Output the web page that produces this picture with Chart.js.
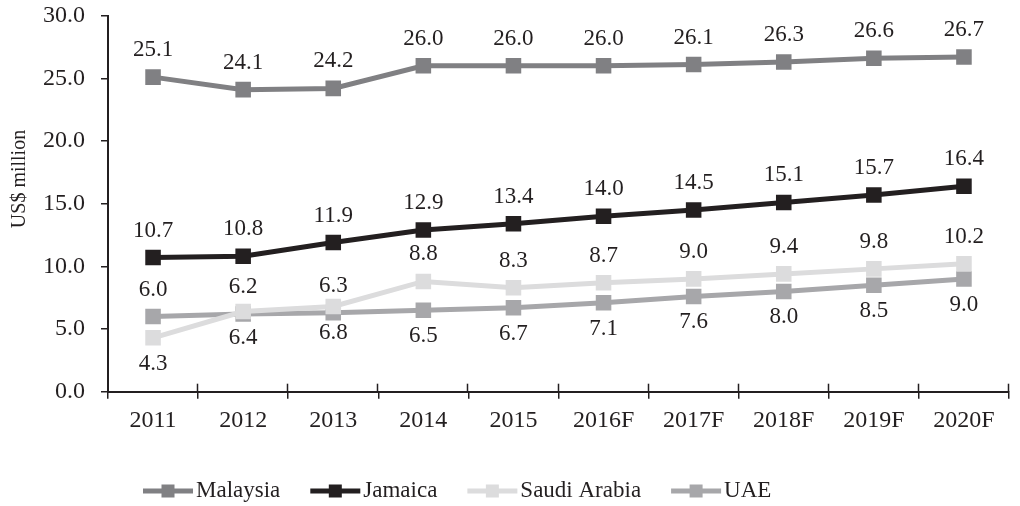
<!DOCTYPE html>
<html>
<head>
<meta charset="utf-8">
<script src="https://cdn.jsdelivr.net/npm/chart.js@4/dist/chart.umd.min.js"></script>
<style>
  body { margin: 0; background: #fff; }
  canvas { display: block; }
</style>
</head>
<body>
<canvas id="myChart" width="1020" height="506"></canvas>
<script>
// datos del grafico
var years = ['2011', '2012', '2013', '2014', '2015', '2016F', '2017F', '2018F', '2019F', '2020F'];
var malaysia = [25.1, 24.1, 24.2, 26.0, 26.0, 26.0, 26.1, 26.3, 26.6, 26.7];
var jamaica = [10.7, 10.8, 11.9, 12.9, 13.4, 14.0, 14.5, 15.1, 15.7, 16.4];
var saudiArabia = [4.3, 6.4, 6.8, 8.8, 8.3, 8.7, 9.0, 9.4, 9.8, 10.2];
var uae = [6.0, 6.2, 6.3, 6.5, 6.7, 7.1, 7.6, 8.0, 8.5, 9.0];
var yTicks = [0, 5, 10, 15, 20, 25, 30];

// donde va cada etiqueta (arriba / abajo del punto)
var A = 'above', B = 'below';
var labelPos = [
  [A, A, A, A, A, A, A, A, A, A],
  [A, A, A, A, A, A, A, A, A, A],
  [B, B, B, A, A, A, A, A, A, A],
  [A, A, A, B, B, B, B, B, B, B]
];

var ink = '#231f20';
var font = "'Liberation Serif', 'Times New Roman', serif";

function serie(label, data, color) {
  return {
    label: label,
    data: data,
    borderColor: color,
    backgroundColor: color,
    borderWidth: 5,
    pointStyle: 'rect',
    pointRadius: 11,
    pointHoverRadius: 11,
    pointBorderWidth: 0,
    tension: 0
  };
}

// etiquetas de valores, marcas del eje x, titulo y leyenda
var extras = {
  id: 'extras',
  afterDatasetsDraw: function (chart) {
    var ctx = chart.ctx;
    ctx.save();
    ctx.font = '23px ' + font;
    ctx.fillStyle = ink;
    ctx.textAlign = 'center';
    ctx.textBaseline = 'middle';
    chart.data.datasets.forEach(function (ds, i) {
      chart.getDatasetMeta(i).data.forEach(function (pt, j) {
        var dy = labelPos[i][j] === 'above' ? -27 : 26;
        ctx.fillText(ds.data[j].toFixed(1), pt.x, pt.y + dy);
      });
    });
    ctx.restore();
  },
  afterDraw: function (chart) {
    var ctx = chart.ctx;
    var area = chart.chartArea;
    var n = chart.data.labels.length;
    var band = (area.right - area.left) / n;
    ctx.save();
    // marcas hacia arriba en el eje x
    ctx.strokeStyle = ink;
    ctx.lineWidth = 1.5;
    for (var i = 1; i <= n; i++) {
      var x = Math.round(area.left + i * band) - 0.5;
      ctx.beginPath();
      ctx.moveTo(x, area.bottom - 8);
      ctx.lineTo(x, area.bottom);
      ctx.stroke();
    }
    // titulo del eje y
    ctx.fillStyle = ink;
    ctx.font = '20px ' + font;
    ctx.textAlign = 'center';
    ctx.textBaseline = 'middle';
    ctx.translate(20, 179);
    ctx.rotate(-Math.PI / 2);
    ctx.fillText('US$ million', 0, 0);
    ctx.restore();

    // leyenda
    ctx.save();
    ctx.font = '23px ' + font;
    ctx.textBaseline = 'middle';
    ctx.textAlign = 'left';
    var lx = 143, ly = 491;
    chart.data.datasets.forEach(function (ds) {
      ctx.strokeStyle = ds.borderColor;
      ctx.fillStyle = ds.borderColor;
      ctx.lineWidth = 5;
      ctx.beginPath();
      ctx.moveTo(lx, ly);
      ctx.lineTo(lx + 50, ly);
      ctx.stroke();
      ctx.fillRect(lx + 25 - 6.5, ly - 6.5, 13, 13);
      ctx.fillStyle = ink;
      ctx.fillText(ds.label, lx + 53, ly);
      lx += 53 + ctx.measureText(ds.label).width + 30;
    });
    ctx.restore();
  }
};

var ctx = document.getElementById('myChart').getContext('2d');

var myChart = new Chart(ctx, {
  type: 'line',
  data: {
    labels: years,
    datasets: [
      serie('Malaysia', malaysia, '#808083'),
      serie('Jamaica', jamaica, ink),
      serie('Saudi Arabia', saudiArabia, '#dcdcdd'),
      serie('UAE', uae, '#a7a7aa')
    ]
  },
  options: {
    responsive: false,
    animation: false,
    devicePixelRatio: 1,
    layout: { padding: { top: 0, right: 2, bottom: 0, left: 0 } },
    plugins: {
      legend: { display: false },
      tooltip: { enabled: false }
    },
    scales: {
      x: {
        offset: true,
        afterFit: function (scale) { scale.height = 114.3; },
        grid: {
          offset: true,
          drawOnChartArea: false,
          tickLength: 7,
          color: ink,
          lineWidth: 1.5
        },
        border: { color: ink, width: 2 },
        ticks: {
          color: ink,
          padding: 8,
          maxRotation: 0,
          font: { family: font, size: 24 }
        }
      },
      y: {
        min: 0,
        max: 30,
        afterFit: function (scale) {
          scale.width = 108;
          scale.paddingTop = 15.7;
          scale.paddingBottom = 0;
        },
        afterBuildTicks: function (scale) {
          scale.ticks = yTicks.map(function (v) { return { value: v }; });
        },
        grid: {
          drawOnChartArea: false,
          tickLength: 7,
          color: ink,
          lineWidth: 1.5
        },
        border: { color: ink, width: 2 },
        ticks: {
          color: ink,
          padding: 16,
          font: { family: font, size: 24 },
          callback: function (v) { return Number(v).toFixed(1); }
        }
      }
    }
  },
  plugins: [extras]
});
</script>
</body>
</html>
